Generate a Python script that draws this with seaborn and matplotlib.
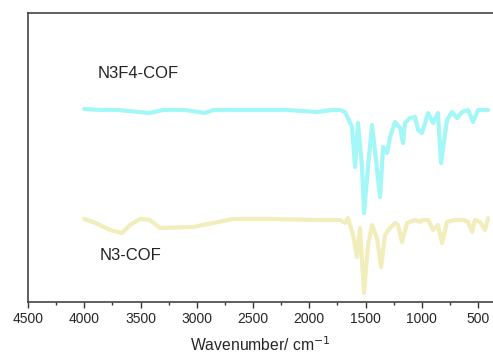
import matplotlib
matplotlib.use("Agg")
import matplotlib.pyplot as plt
from matplotlib.ticker import MultipleLocator
import seaborn as sns
import pandas as pd

# N3F4-COF spectrum (wavenumber, relative transmittance)
n3f4_wn = [4000, 3850, 3700, 3420, 3300, 3100, 2930, 2850, 2500, 2200, 1930, 1800,
           1727, 1682, 1620, 1593, 1567, 1531, 1513, 1478, 1442, 1407, 1371, 1344,
           1309, 1282, 1238, 1193, 1167, 1149, 1104, 1060, 1033, 998, 944, 900, 856,
           829, 776, 731, 687, 642, 589, 544, 500, 411]
n3f4_t = [193, 192, 192, 189, 192, 192, 189, 192, 192, 192, 190, 192,
          192, 190, 175, 135, 179, 135, 89, 135, 177, 142, 105, 155,
          149, 165, 180, 174, 159, 179, 184, 185, 172, 169, 189, 179, 189,
          139, 182, 190, 184, 190, 192, 180, 192, 192]

# N3-COF spectrum
n3_wn = [4000, 3900, 3771, 3664, 3593, 3504, 3416, 3327, 3033, 2856, 2678, 2349, 1904,
         1727, 1682, 1656, 1611, 1576, 1549, 1513, 1478, 1442, 1398, 1362, 1327,
         1282, 1238, 1211, 1176, 1131, 1060, 1016, 998, 944, 900, 856, 820, 776,
         704, 633, 589, 553, 527, 482, 438, 411]
n3_t = [83, 79, 72, 69, 77, 83, 82, 74, 75, 79, 83, 83, 82,
        82, 79, 84, 67, 45, 74, 9, 57, 77, 64, 35, 67,
        74, 79, 77, 60, 79, 82, 80, 82, 82, 72, 77, 59, 80,
        82, 82, 80, 70, 82, 80, 72, 84]

labels = ["N3F4-COF", "N3-COF"]
xticks = [4500, 4000, 3500, 3000, 2500, 2000, 1500, 1000, 500]

sns.set_style("white")
plt.rcParams['font.family'] = ['Liberation Sans', 'DejaVu Sans']

fig = plt.figure(figsize=(4.93, 3.54), dpi=100)
ax = fig.add_axes([28/493, 52/354, 1 - 28/493, (302-13)/354])

df1 = pd.DataFrame({"wn": n3f4_wn, "t": n3f4_t})
df2 = pd.DataFrame({"wn": n3_wn, "t": n3_t})
sns.lineplot(data=df1, x="wn", y="t", ax=ax, color="#a3f7f7", lw=3.0, sort=False)
sns.lineplot(data=df2, x="wn", y="t", ax=ax, color="#f2eebb", lw=3.0, sort=False)

ax.set_xlim(4500, 367)
ax.set_ylim(0, 289)
ax.set_xticks(xticks)
ax.set_xticklabels([str(v) for v in xticks])
ax.xaxis.set_minor_locator(MultipleLocator(250))
ax.set_yticks([])
ax.tick_params(axis='x', which='major', direction='out', length=4, width=1,
               color='#333333', labelsize=10, pad=3, bottom=True)
ax.tick_params(axis='x', which='minor', direction='out', length=2.5, width=1,
               color='#333333', bottom=True)
for s in ['left', 'bottom', 'top']:
    ax.spines[s].set_color('#444444')
    ax.spines[s].set_linewidth(1.2)
ax.spines['right'].set_visible(False)

ax.set_xlabel("Wavenumber/ cm$^{-1}$", fontsize=11.3, labelpad=7)
ax.set_ylabel("")

ax.text(3885, 228, labels[0], fontsize=12, ha='left', va='center', color='#222222')
ax.text(3860, 46, labels[1], fontsize=12, ha='left', va='center', color='#222222')

fig.savefig("out.png", dpi=100)
